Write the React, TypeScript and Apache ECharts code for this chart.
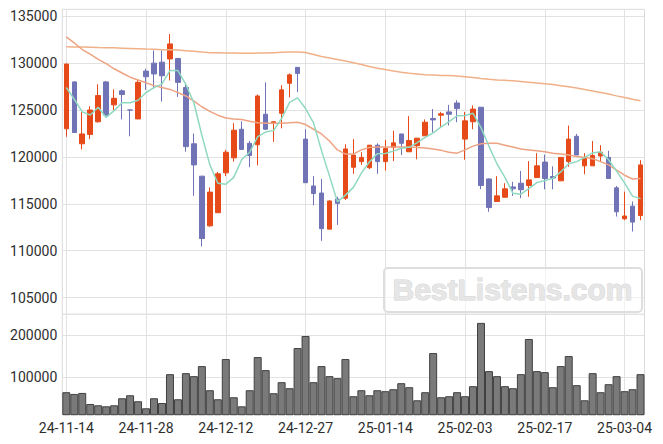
import React, { useEffect, useRef } from 'react';
import * as echarts from 'echarts';

const dates = [
  '24-11-14','24-11-15','24-11-18','24-11-19','24-11-20','24-11-21','24-11-22','24-11-25','24-11-26','24-11-27',
  '24-11-28','24-11-29','24-12-02','24-12-03','24-12-04','24-12-05','24-12-06','24-12-09','24-12-10','24-12-11',
  '24-12-12','24-12-13','24-12-16','24-12-17','24-12-18','24-12-19','24-12-20','24-12-23','24-12-24','24-12-26',
  '24-12-27','24-12-30','25-01-02','25-01-03','25-01-06','25-01-07','25-01-08','25-01-09','25-01-10','25-01-13',
  '25-01-14','25-01-15','25-01-16','25-01-17','25-01-20','25-01-21','25-01-22','25-01-23','25-01-24','25-01-31',
  '25-02-03','25-02-04','25-02-05','25-02-06','25-02-07','25-02-10','25-02-11','25-02-12','25-02-13','25-02-14',
  '25-02-17','25-02-18','25-02-19','25-02-20','25-02-21','25-02-24','25-02-25','25-02-26','25-02-27','25-02-28',
  '25-03-04','25-03-05','25-03-06'
];

const opens = [
  123000,128000,121400,122400,123750,128000,125550,127050,125000,124050,
  129150,130000,130100,130450,130500,127400,121400,117950,112650,114050,
  118300,119900,122950,121450,121300,124550,123600,124650,127850,129550,
  121900,116900,116150,112300,115500,115600,118900,119500,118850,121250,
  119500,121000,122450,120550,121200,122250,124100,124450,124800,125750,
  121900,123750,125300,117650,115250,115700,116800,117200,116950,117800,
  119450,117900,117450,119500,122200,119050,119050,120100,119950,116700,
  113400,114750,113750
];
const closes = [
  129900,122600,122450,125000,126550,124450,126250,126650,125000,127950,
  128550,128850,128650,132050,127950,121100,119150,111300,116250,118200,
  120500,122850,120800,120150,126500,122950,123750,127150,128750,128900,
  117250,116100,112350,115300,115050,120850,120200,119950,121250,119500,
  120900,121500,121450,121750,122000,123700,123950,124600,124550,125150,
  123850,125100,116950,114600,115850,116600,116600,116500,117550,119050,
  117700,117750,119950,121900,120200,119950,120150,120500,117700,114150,
  113700,113050,119150
];
const lows = [
  122150,122600,120800,121900,123650,124400,125000,124000,122200,124050,
  127150,127300,125900,128150,126400,120550,115850,110450,112550,114050,
  117950,119500,120800,118900,119100,122900,121600,123050,126350,126900,
  117250,114850,111050,112300,112750,115400,118200,119150,118700,118200,
  118550,119550,120200,120550,119750,122250,122600,123200,123350,123700,
  119700,122950,116550,114150,115250,115700,115850,115600,115750,117800,
  116550,116550,117450,118950,120200,118150,119050,119450,117700,113650,
  113250,112050,113250
];
const highs = [
  129950,128050,124800,125400,127750,128100,127200,127200,125050,128250,
  129400,131350,131350,133100,130500,127900,122500,117950,116750,118400,
  120750,123600,123800,121700,126650,127950,123800,127650,128900,129550,
  122950,117950,117650,115400,115750,121350,121900,120500,121250,121450,
  121800,122800,122450,124350,122000,124000,125100,124800,125550,126050,
  124800,125500,125300,117700,117950,117200,117350,118500,119550,120400,
  120250,119000,119950,123350,122450,120400,121700,121250,120650,116900,
  116300,115250,119650
];

const volumes = [
  64300,60200,62600,36400,33300,30900,33300,50000,57100,42900,
  26200,50000,38800,107100,47600,109500,102400,126200,69000,47600,
  142900,52400,30900,69000,147600,116700,61900,88100,73800,169000,
  197600,88100,126200,102400,97600,142900,54800,69000,57100,69000,
  66700,71400,85700,76200,45200,64300,157100,52400,54800,64300,
  54800,78600,228600,114300,102400,78600,73800,107100,190500,114300,
  111900,76200,126200,150000,81000,45200,109500,64300,83300,102400,
  66700,71400,107100
];

const ma5 = [
  127400,126150,124800,124470,125300,124210,124940,125780,125770,126050,
  126870,127390,127790,129210,129210,127720,125780,122310,119150,117200,
  117080,117820,119720,120500,122160,122650,122830,124100,125820,126300,
  125160,123630,120670,117980,115210,115930,116750,118270,119460,120350,
  120360,120620,120920,121020,121520,122080,122570,123200,123760,124390,
  124420,124650,123120,121130,119270,117820,116120,116030,116620,117260,
  117480,117710,118400,119270,119500,119950,120430,120540,119700,118490,
  117240,115820,115550
];
const ma20 = [
  132800,132150,131450,130950,130400,129950,129400,128950,128500,128200,
  127900,127600,127400,127200,126850,126500,125950,125350,124850,124450,
  124150,124050,124000,123800,123650,123600,123600,123600,123650,123700,
  123450,122950,122450,121700,120750,120300,120300,120750,121000,121050,
  121050,121050,121050,121050,121000,120950,120850,120700,120500,120400,
  120750,121150,121400,121450,121450,121250,121050,120850,120750,120650,
  120550,120400,120300,120200,120050,119950,119800,119500,119150,118600,
  118050,117650,117700
];
const ma120 = [
  131750,131730,131720,131700,131670,131650,131630,131600,131570,131540,
  131500,131470,131440,131420,131390,131330,131270,131180,131120,131100,
  131080,131070,131060,131050,131070,131090,131120,131150,131180,131200,
  131130,130920,130700,130540,130380,130220,130040,129850,129640,129450,
  129320,129160,129020,128910,128840,128770,128730,128690,128670,128630,
  128560,128470,128360,128270,128200,128170,128110,128040,127960,127880,
  127790,127710,127600,127490,127350,127190,127030,126870,126710,126510,
  126330,126150,125990
];

const UP = '#e64a19';
const DOWN = '#7073b6';
const GRID_LINE = '#e2e2e2';
const LABEL = '#2e2e2e';
const FONT = 'Roboto';

export default function App() {
  const ref = useRef<HTMLDivElement>(null);

  useEffect(() => {
    document.body.style.margin = '0';
    if (!ref.current) return;
    const chart = echarts.init(ref.current, undefined, { renderer: 'svg' });

    const candleData = dates.map((_, i) => [opens[i], closes[i], lows[i], highs[i]]);
    const plain = (v: number) => String(v);

    const xSplit = { show: true, interval: 9, alignWithLabel: true, lineStyle: { color: GRID_LINE, width: 1 } } as any;

    const option: any = {
      animation: false,
      backgroundColor: '#ffffff',
      textStyle: { fontFamily: FONT },
      grid: [
        { left: 62.3, right: 18.5, top: 9.3, height: 305, show: true, borderColor: '#dadada', borderWidth: 1, containLabel: false },
        { left: 62.3, right: 18.5, top: 314.3, height: 100.4, show: true, borderColor: '#dadada', borderWidth: 1, containLabel: false },
      ],
      xAxis: [
        {
          type: 'category', data: dates, gridIndex: 0, boundaryGap: true,
          axisLine: { show: false }, axisTick: { show: false }, axisLabel: { show: false },
          splitLine: xSplit,
        },
        {
          type: 'category', data: dates, gridIndex: 1, boundaryGap: true,
          axisLine: { show: false }, axisTick: { show: false },
          axisLabel: { show: true, interval: 9, color: LABEL, fontSize: 14, margin: 6, fontFamily: FONT },
          splitLine: xSplit,
        },
      ],
      yAxis: [
        {
          type: 'value', gridIndex: 0, min: 103220, max: 135740, splitNumber: 5, scale: true,
          axisLine: { show: false }, axisTick: { show: false },
          axisLabel: { showMinLabel: false, showMaxLabel: false, color: LABEL, fontSize: 14, margin: 5, fontFamily: FONT, formatter: plain },
          splitLine: { show: true, lineStyle: { color: GRID_LINE, width: 1 } },
        },
        {
          type: 'value', gridIndex: 1, min: 11000, max: 249000, splitNumber: 2, scale: true,
          axisLine: { show: false }, axisTick: { show: false },
          axisLabel: { showMinLabel: false, showMaxLabel: false, color: LABEL, fontSize: 14, margin: 5, fontFamily: FONT, formatter: plain },
          splitLine: { show: true, lineStyle: { color: GRID_LINE, width: 1 } },
        },
      ],
      series: [
        {
          name: 'MA120', type: 'line', data: ma120, xAxisIndex: 0, yAxisIndex: 0,
          showSymbol: false, symbol: 'none', lineStyle: { color: '#f0b088', width: 1.5 }, itemStyle: { color: '#f0b088' }, silent: true,
        },
        {
          name: 'MA20', type: 'line', data: ma20, xAxisIndex: 0, yAxisIndex: 0,
          showSymbol: false, symbol: 'none', lineStyle: { color: '#eea382', width: 1.5 }, itemStyle: { color: '#eea382' }, silent: true,
        },
        {
          name: 'MA5', type: 'line', data: ma5, xAxisIndex: 0, yAxisIndex: 0,
          showSymbol: false, symbol: 'none', lineStyle: { color: '#8fd9c0', width: 1.5 }, itemStyle: { color: '#8fd9c0' }, silent: true,
        },
        {
          name: 'Price', type: 'candlestick', data: candleData, xAxisIndex: 0, yAxisIndex: 0,
          barWidth: 5,
          itemStyle: { color: UP, color0: DOWN, borderColor: UP, borderColor0: DOWN, borderWidth: 1 },
        },
        {
          name: 'Volume', type: 'bar', data: volumes, xAxisIndex: 1, yAxisIndex: 1,
          barWidth: '100%', barCategoryGap: '0%',
          itemStyle: { color: '#7a7a7a', borderColor: '#404040', borderWidth: 1 },
        },
      ],
      graphic: [
        {
          type: 'rect', left: 383, top: 267, z: 100,
          shape: { width: 258, height: 44, r: 4 },
          style: { fill: 'rgba(255,255,255,0.55)', stroke: '#dedede', lineWidth: 2 },
        },
        {
          type: 'text', x: 512.5, y: 289.5, z: 101,
          style: {
            text: 'BestListens.com', font: 'bold 30px "Liberation Sans", Arial, sans-serif',
            fill: '#e6e6e6', stroke: '#d6d6d6', lineWidth: 1,
            textAlign: 'center', textVerticalAlign: 'middle', align: 'center', verticalAlign: 'middle',
          },
        },
      ],
    };

    chart.setOption(option);
    return () => chart.dispose();
  }, []);

  return <div ref={ref} style={{ width: 663, height: 444 }} />;
}
